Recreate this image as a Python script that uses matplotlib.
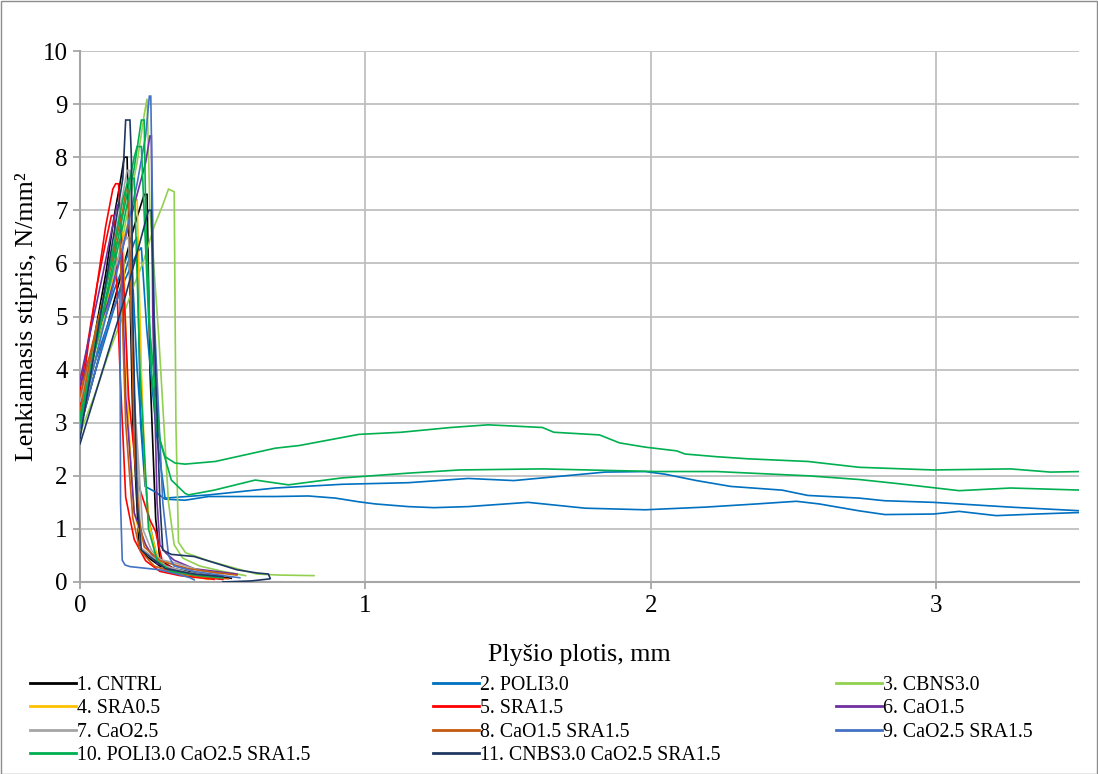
import matplotlib
matplotlib.use("Agg")
import matplotlib.pyplot as plt
from matplotlib.lines import Line2D
from matplotlib.patches import Rectangle

plt.rcParams['font.family'] = ['Liberation Serif', 'DejaVu Serif']

# ---------------- data ----------------
labels = ["1. CNTRL", "2. POLI3.0", "3. CBNS3.0", "4. SRA0.5", "5. SRA1.5",
          "6. CaO1.5", "7. CaO2.5", "8. CaO1.5 SRA1.5", "9. CaO2.5 SRA1.5",
          "10. POLI3.0 CaO2.5 SRA1.5", "11. CNBS3.0 CaO2.5 SRA1.5"]
colors = ["#000000", "#0070C0", "#92D050", "#FFC000", "#FF0000", "#7030A0",
          "#A5A5A5", "#C55A11", "#4472C4", "#00B050", "#1F3864"]

cntrl_x = [[0, 0.03, 0.06, 0.09, 0.12, 0.14, 0.155, 0.165, 0.185, 0.207, 0.234, 0.28, 0.34, 0.40, 0.46],
           [0, 0.05, 0.10, 0.15, 0.19, 0.225, 0.235, 0.245, 0.265, 0.28, 0.33, 0.42, 0.53]]
cntrl_y = [[3.1, 4.0, 4.9, 5.8, 6.9, 7.5, 8.0, 8.0, 3.0, 0.64, 0.48, 0.30, 0.2, 0.13, 0.08],
           [2.9, 3.9, 4.9, 5.9, 6.7, 7.3, 7.3, 4.0, 1.2, 0.41, 0.25, 0.15, 0.07]]

poli_x = [[0, 0.05, 0.10, 0.15, 0.19, 0.20, 0.212, 0.228, 0.263, 0.298, 0.368, 0.45, 0.684, 0.80,
           0.895, 0.977, 1.035, 1.15, 1.24, 1.36, 1.57, 1.77, 1.98, 2.19, 2.37, 2.51, 2.59, 2.73,
           2.82, 2.99, 3.08, 3.21, 3.35, 3.51],
          [0, 0.05, 0.10, 0.15, 0.20, 0.215, 0.234, 0.269, 0.298, 0.45, 0.684, 0.918, 1.15, 1.36,
           1.52, 1.66, 1.84, 1.98, 2.05, 2.16, 2.28, 2.46, 2.55, 2.73, 2.82, 2.99, 3.26, 3.51],
          [0, 0.06, 0.12, 0.17, 0.18, 0.20, 0.24, 0.27, 0.30, 0.38, 0.50]]
poli_y = [[3.0, 3.9, 4.8, 5.7, 6.4, 6.5, 3.0, 1.80, 1.70, 1.56, 1.54, 1.61, 1.61, 1.62,
           1.58, 1.51, 1.47, 1.42, 1.40, 1.42, 1.50, 1.39, 1.36, 1.41, 1.47, 1.52, 1.47, 1.34,
           1.27, 1.28, 1.33, 1.25, 1.28, 1.31],
          [3.3, 4.1, 4.9, 5.6, 6.2, 6.3, 4.75, 2.74, 1.58, 1.64, 1.77, 1.84, 1.87, 1.95,
           1.91, 1.98, 2.07, 2.08, 2.03, 1.91, 1.80, 1.73, 1.63, 1.58, 1.53, 1.50, 1.41, 1.34],
          [3.5, 4.5, 5.5, 6.2, 6.2, 4.0, 1.2, 0.45, 0.25, 0.15, 0.05]]

cbns_x = [[0, 0.05, 0.10, 0.15, 0.20, 0.225, 0.235, 0.245, 0.275, 0.31, 0.33, 0.36, 0.42, 0.50, 0.58],
          [0, 0.05, 0.10, 0.15, 0.19, 0.22, 0.26, 0.29, 0.31, 0.33, 0.336, 0.345, 0.37, 0.45,
           0.55, 0.62, 0.70, 0.82]]
cbns_y = [[2.9, 4.1, 5.3, 6.5, 7.9, 8.8, 9.1, 7.0, 4.7, 1.5, 0.7, 0.45, 0.3, 0.2, 0.12],
          [2.8, 3.5, 4.3, 5.0, 5.6, 6.0, 6.7, 7.1, 7.4, 7.35, 3.0, 0.75, 0.55, 0.4,
           0.25, 0.15, 0.13, 0.12]]

sra05_x = [[0, 0.05, 0.10, 0.15, 0.19, 0.20, 0.215, 0.23, 0.245, 0.265, 0.29, 0.35, 0.45],
           [0, 0.05, 0.10, 0.14, 0.15, 0.17, 0.19, 0.21, 0.24, 0.30, 0.40]]
sra05_y = [[3.2, 4.3, 5.4, 6.4, 7.2, 7.2, 4.0, 1.8, 1.04, 0.6, 0.28, 0.15, 0.05],
           [3.4, 4.6, 5.8, 6.6, 6.6, 3.0, 1.3, 0.9, 0.6, 0.25, 0.08]]

sra15_x = [[0, 0.03, 0.06, 0.09, 0.115, 0.125, 0.135, 0.15, 0.17, 0.20, 0.245, 0.265, 0.275, 0.29,
            0.35, 0.45, 0.50],
           [0, 0.03, 0.06, 0.09, 0.11, 0.12, 0.14, 0.16, 0.19, 0.23, 0.28, 0.35, 0.47]]
sra15_y = [[3.3, 4.5, 5.6, 6.7, 7.4, 7.5, 7.5, 6.0, 3.5, 1.9, 1.17, 0.95, 0.7, 0.35,
            0.2, 0.08, 0.05],
           [3.6, 4.6, 5.6, 6.4, 6.9, 6.9, 4.0, 1.6, 0.8, 0.4, 0.2, 0.12, 0.05]]

cao15_x = [[0, 0.05, 0.10, 0.15, 0.20, 0.23, 0.245, 0.25, 0.255, 0.27, 0.28, 0.30, 0.33, 0.40, 0.55],
           [0, 0.04, 0.08, 0.11, 0.13, 0.14, 0.16, 0.19, 0.23, 0.27, 0.35, 0.45]]
cao15_y = [[3.7, 4.5, 5.3, 6.3, 7.3, 7.9, 8.4, 8.4, 5.0, 1.5, 0.7, 0.55, 0.41, 0.25, 0.15],
           [3.8, 4.8, 5.8, 6.6, 7.1, 7.1, 3.5, 1.3, 0.7, 0.35, 0.2, 0.1]]

cao25_x = [[0, 0.04, 0.08, 0.12, 0.15, 0.165, 0.175, 0.19, 0.214, 0.26, 0.34, 0.42, 0.50],
           [0, 0.05, 0.10, 0.15, 0.17, 0.19, 0.22, 0.25, 0.30, 0.38, 0.48]]
cao25_y = [[3.1, 4.2, 5.3, 6.4, 7.3, 7.75, 7.75, 3.5, 0.64, 0.45, 0.35, 0.22, 0.15],
           [3.4, 4.5, 5.5, 6.4, 6.5, 3.5, 1.0, 0.6, 0.3, 0.18, 0.1]]

cao15sra_x = [[0, 0.04, 0.08, 0.12, 0.15, 0.162, 0.17, 0.18, 0.19, 0.207, 0.225, 0.28, 0.38, 0.47, 0.55],
              [0, 0.04, 0.08, 0.11, 0.13, 0.14, 0.16, 0.185, 0.21, 0.26, 0.33, 0.42, 0.52]]
cao15sra_y = [[3.2, 4.3, 5.3, 6.3, 7.0, 7.4, 7.4, 5.0, 2.5, 1.2, 0.66, 0.4, 0.25, 0.18, 0.13],
              [3.5, 4.4, 5.3, 6.0, 6.4, 6.4, 3.0, 1.2, 0.6, 0.3, 0.18, 0.1, 0.06]]

cao25sra_x = [[0, 0.05, 0.10, 0.15, 0.20, 0.23, 0.243, 0.248, 0.26, 0.29, 0.31, 0.33, 0.40, 0.50, 0.56],
              [0, 0.03, 0.06, 0.09, 0.12, 0.14, 0.142, 0.148, 0.158, 0.175, 0.28, 0.34, 0.386, 0.40]]
cao25sra_y = [[3.0, 4.1, 5.2, 6.3, 7.5, 8.4, 9.15, 9.15, 5.0, 1.5, 0.5, 0.3, 0.2, 0.12, 0.08],
              [2.9, 3.5, 4.1, 4.7, 5.2, 5.45, 1.5, 0.41, 0.32, 0.29, 0.23, 0.15, 0.08, 0.04]]

policao_x = [[0, 0.05, 0.10, 0.15, 0.19, 0.215, 0.225, 0.23, 0.25, 0.27, 0.298, 0.333, 0.368, 0.474,
              0.684, 0.768, 0.977, 1.125, 1.30, 1.43, 1.62, 1.66, 1.82, 1.89, 1.98, 2.09, 2.12,
              2.23, 2.34, 2.55, 2.73, 2.99, 3.26, 3.40, 3.51],
             [0, 0.05, 0.10, 0.15, 0.19, 0.20, 0.215, 0.24, 0.28, 0.32, 0.368, 0.38, 0.47, 0.614,
              0.73, 0.918, 1.15, 1.33, 1.62, 2.02, 2.23, 2.55, 2.73, 2.87, 3.08, 3.26, 3.51],
             [0, 0.05, 0.10, 0.15, 0.17, 0.19, 0.21, 0.24, 0.27, 0.32, 0.42, 0.50]]
policao_y = [[3.1, 4.3, 5.5, 6.7, 7.8, 8.7, 8.7, 7.0, 4.0, 2.86, 2.36, 2.24, 2.22, 2.27,
              2.52, 2.57, 2.78, 2.82, 2.91, 2.96, 2.91, 2.82, 2.77, 2.62, 2.54, 2.47, 2.41,
              2.36, 2.32, 2.27, 2.16, 2.11, 2.13, 2.07, 2.08],
             [3.0, 4.3, 5.6, 6.9, 8.0, 8.2, 8.2, 5.0, 2.67, 1.92, 1.67, 1.64, 1.73, 1.92,
              1.83, 1.96, 2.05, 2.11, 2.13, 2.08, 2.08, 2.0, 1.93, 1.85, 1.72, 1.77, 1.73],
             [3.0, 4.4, 5.8, 7.2, 7.6, 7.6, 4.0, 1.0, 0.4, 0.2, 0.12, 0.08]]

cnbs_x = [[0, 0.04, 0.08, 0.12, 0.15, 0.16, 0.175, 0.18, 0.185, 0.20, 0.215, 0.30, 0.40, 0.50],
          [0, 0.04, 0.08, 0.12, 0.16, 0.20, 0.24, 0.25, 0.26, 0.28, 0.29, 0.32, 0.40, 0.55,
           0.62, 0.66, 0.667, 0.60, 0.50]]
cnbs_y = [[2.7, 4.0, 5.3, 6.6, 7.6, 8.7, 8.7, 8.0, 5.0, 1.5, 0.6, 0.25, 0.15, 0.1],
          [2.6, 3.3, 4.0, 4.7, 5.4, 6.2, 7.0, 7.0, 4.75, 1.5, 0.6, 0.52, 0.48, 0.23,
           0.17, 0.15, 0.06, 0.02, 0.0]]

series_x = [cntrl_x, poli_x, cbns_x, sra05_x, sra15_x, cao15_x, cao25_x,
            cao15sra_x, cao25sra_x, policao_x, cnbs_x]
series_y = [cntrl_y, poli_y, cbns_y, sra05_y, sra15_y, cao15_y, cao25_y,
            cao15sra_y, cao25sra_y, policao_y, cnbs_y]

x_ticks = [0, 1, 2, 3]
y_ticks = list(range(0, 11))

# ---------------- figure ----------------
W, H = 1098, 774
fig = plt.figure(figsize=(W / 100, H / 100), dpi=100)
ax = fig.add_axes([80 / W, 1 - 582 / H, 999 / W, (582 - 51) / H])

for xs_list, ys_list, c in zip(series_x, series_y, colors):
    for xs, ys in zip(xs_list, ys_list):
        ax.plot(xs, ys, color=c, lw=1.2, solid_joinstyle='miter', zorder=3)

ax.set_xlim(0, 3.5)
ax.set_ylim(0, 10)
ax.set_xticks(x_ticks)
ax.set_yticks(y_ticks)
ax.set_xticklabels([str(t) for t in x_ticks])
ax.set_yticklabels([str(t) for t in y_ticks])
grid_c = "#bfbfbf"
ax.grid(True, color=grid_c, lw=1.3, zorder=0)
for s in ["top", "right"]:
    ax.spines[s].set_visible(False)
for s in ["left", "bottom"]:
    ax.spines[s].set_color("#a6a6a6")
    ax.spines[s].set_linewidth(1.5)
ax.tick_params(axis='both', length=5, width=1.3, color="#a6a6a6", labelsize=18, pad=4)
ax.set_xlabel("Plyšio plotis, mm", fontsize=18.7, labelpad=20)
ax.set_ylabel("Lenkiamasis stipris, N/mm²", fontsize=18.7, labelpad=3)

# legend: 3 columns placed at fixed positions
handles = [Line2D([0], [0], color=c, lw=2) for c in colors]
col_x = [30, 433, 836]
for ci in range(3):
    idx = list(range(ci, len(labels), 3))
    fig.legend([handles[i] for i in idx], [labels[i] for i in idx],
               loc='upper left', bbox_to_anchor=(col_x[ci] / W, 1 - 676 / H),
               frameon=False, fontsize=14.3, handlelength=2.3, handletextpad=0.05,
               labelspacing=0.22, borderpad=0, borderaxespad=0)

fig.patches.append(Rectangle((0.5 / W, 0.5 / H), 1 - 1.5 / W, 1 - 1.5 / H, transform=fig.transFigure,
                             fill=False, edgecolor="#8c8c8c", lw=1, zorder=10))

fig.savefig("out.png", dpi=100)
